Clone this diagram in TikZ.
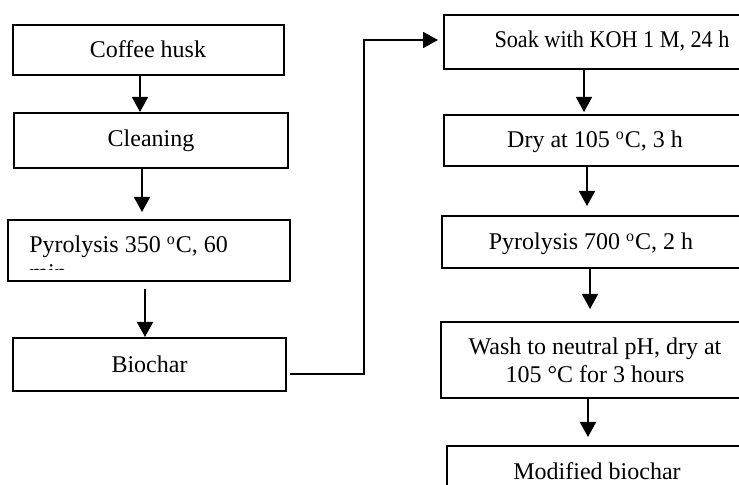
\documentclass[tikz,border=0pt]{standalone}
\usepackage{fontspec}
\setmainfont{Liberation Serif}
\usetikzlibrary{calc,arrows.meta}
\tikzset{
  boxnode/.style={draw, line width=1pt, inner sep=0pt, rectangle},
  txt/.style={inner sep=0pt, anchor=base, font=\fontsize{12}{13.8}\selectfont},
  arr/.style={line width=0.85pt, -{Triangle[length=7.5pt,width=8pt]}},
}
\begin{document}
\begin{tikzpicture}[x=0.5pt,y=-0.5pt]
\clip (0,0) rectangle (739,485);
\useasboundingbox (0,0) rectangle (739,485);
% left column
\node[boxnode, minimum width=135.5pt, minimum height=25pt] (coffee) at (148.5,50) {};
\node[boxnode, minimum width=137pt, minimum height=27.5pt] (cleaning) at (151,140.5) {};
\node[boxnode, minimum width=141pt, minimum height=30.5pt] (pyro1) at (149,250.5) {};
\node[boxnode, minimum width=136.5pt, minimum height=26.5pt] (biochar) at (149.5,364.5) {};
% right column
\node[boxnode, minimum width=173pt, minimum height=27pt] (soak) at (617,42) {};
\node[boxnode, minimum width=173pt, minimum height=25.5pt] (dry) at (617,140.5) {};
\node[boxnode, minimum width=174pt, minimum height=26pt] (pyro2) at (616,242) {};
\node[boxnode, minimum width=174.5pt, minimum height=38pt] (wash) at (615.5,360) {};
\node[boxnode, minimum width=171.5pt, minimum height=37pt] (modified) at (618.5,483) {};
% texts
\node[txt] (coffeet) at (148,58) {Coffee husk};
\node[txt] (cleaningt) at (151,147) {Cleaning};
\node[txt, anchor=base west] (pyro1t) at (29,253) {Pyrolysis 350 \textsuperscript{o}C, 60};
\begin{scope}
\clip (10,222) rectangle (288,270);
\node[txt, anchor=base west] (pyro1m) at (29,281) {min};
\end{scope}
\node[txt] (biochart) at (149.5,373) {Biochar};
\node[txt] (soakt) at (612,48) {\scalebox{0.925}[1]{Soak with KOH 1 M, 24 h}};
\node[txt] (dryt) at (595,148) {Dry at 105 \textsuperscript{o}C, 3 h};
\node[txt] (pyro2t) at (591,250) {Pyrolysis 700 \textsuperscript{o}C, 2 h};
\node[txt] (washt1) at (595,355) {Wash to neutral pH, dry at};
\node[txt] (washt2) at (595,383) {105 °C for 3 hours};
\node[txt] (modt) at (597,480) {Modified biochar};
% arrows left
\draw[arr] ($(coffee.south)+(-8.5,0)$) -- ($(cleaning.north)+(-11,0)$);
\draw[arr] ($(cleaning.south)+(-9,0)$) -- ($(pyro1.north)+(-7,-7)$);
\draw[arr] ($(pyro1.south)+(-4,7)$) -- ($(biochar.north)+(-4.5,0)$);
% connector
\coordinate (bend) at (364,40);
\draw[arr] ($(biochar.east)+(3,9.5)$) -| (bend) -- ($(soak.west)+(-5,-2)$);
% arrows right
\draw[arr] ($(soak.south)+(-33,0)$) -- ($(dry.north)+(-33,-2)$);
\draw[arr] ($(dry.south)+(-30,0)$) -- ($(pyro2.north)+(-29,-9)$);
\draw[arr] ($(pyro2.south)+(-26,0)$) -- ($(wash.north)+(-25.5,-12)$);
\draw[arr] ($(wash.south)+(-27.5,0)$) -- ($(modified.north)+(-30.5,-8)$);
\end{tikzpicture}
\end{document}
